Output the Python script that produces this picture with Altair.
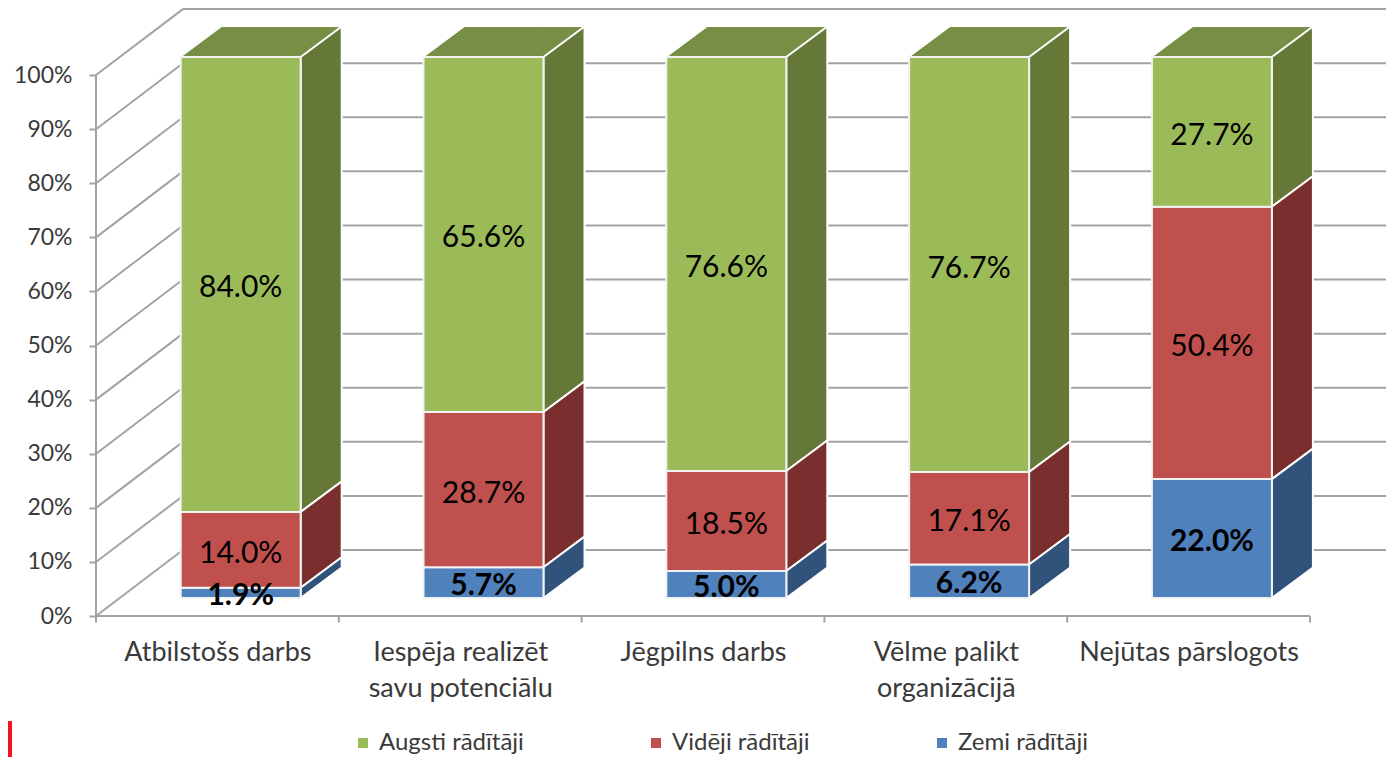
import json
import altair as alt
import pandas as pd

categories = ["Atbilstošs darbs", "Iespēja realizēt\nsavu potenciālu", "Jēgpilns darbs", "Vēlme palikt\norganizācijā", "Nejūtas pārslogots"]
series = ["Augsti rādītāji", "Vidēji rādītāji", "Zemi rādītāji"]
high = [84.0, 65.6, 76.6, 76.7, 27.7]
mid = [14.0, 28.7, 18.5, 17.1, 50.4]
low = [1.9, 5.7, 5.0, 6.2, 22.0]
y_ticks = [0, 10, 20, 30, 40, 50, 60, 70, 80, 90, 100]
x_ticks = [0, 1, 2, 3, 4, 5]

FONT = "Lato"
FRONT = ["#9BBB59", "#C0504D", "#4F81BD"]
SIDE = ["#657838", "#7A2F2E", "#31527A"]
TOP = "#778E45"
GRID = "#A3A3A3"
TEXT = "#3A3A3A"

# projection constants, in scale units (category widths and percent)
X_DOM = [-0.3624, 5.3130]
Y_DOM = [-26.06, 112.4]
WALL_DX, WALL_DY = 0.358, 12.2
BAR_SHIFT_X, BAR_SHIFT_Y = 0.096, 3.33
BAR_W = 0.494
SIDE_DX, SIDE_DY = 0.169, 5.64

front, side, top, labels = [], [], [], []
for i in range(len(categories)):
    vals = [low[i], mid[i], high[i]]
    names = [series[2], series[1], series[0]]
    total = sum(vals)
    u0 = i + 0.5 + BAR_SHIFT_X - BAR_W / 2
    u1 = u0 + BAR_W
    base = 0.0
    for v, n in zip(vals, names):
        a = BAR_SHIFT_Y + base / total * 100
        base += v
        b = BAR_SHIFT_Y + base / total * 100
        front.append(dict(u0=u0, u1=u1, v0=a, v1=b, s=n))
        fid = f"{i}-{n}"
        side.append(dict(f=fid, s=n, u=u1, v0=a, v1=b))
        side.append(dict(f=fid, s=n, u=u1 + SIDE_DX, v0=a + SIDE_DY, v1=b + SIDE_DY))
        labels.append(dict(u=(u0 + u1) / 2, v=(a + b) / 2, t=f"{v:.1f}%", s=n))
    vt = BAR_SHIFT_Y + 100
    top += [
        dict(f=i, u=u0, v0=vt, v1=vt),
        dict(f=i, u=u0 + SIDE_DX, v0=vt, v1=vt + SIDE_DY),
        dict(f=i, u=u1, v0=vt, v1=vt + SIDE_DY),
        dict(f=i, u=u1 + SIDE_DX, v0=vt + SIDE_DY, v1=vt + SIDE_DY),
    ]

grid = []
for t in y_ticks:
    grid.append(dict(u0=0, u1=WALL_DX, v0=t, v1=t + WALL_DY))
    grid.append(dict(u0=WALL_DX, u1=X_DOM[1], v0=t + WALL_DY, v1=t + WALL_DY))

xs = alt.Scale(domain=X_DOM, nice=False, zero=False)
ys = alt.Scale(domain=Y_DOM, nice=False, zero=False)

lines_json = json.dumps(categories, ensure_ascii=False)
x_axis = alt.Axis(
    values=[c + 0.5 for c in range(5)], offset=-141, domain=False, ticks=False, grid=False, title=None,
    labelExpr=f"split({lines_json}[floor(datum.value)], '\\n')",
    labelFont=FONT, labelFontSize=27, labelColor=TEXT, labelLineHeight=36, labelPadding=23,
    labelOverlap=False, labelBound=False, labelFlush=False, labelLimit=400,
)
y_axis = alt.Axis(
    values=y_ticks, offset=-88, domain=False, grid=False, title=None, tickColor=GRID, tickWidth=2, tickSize=7,
    labelExpr="datum.value + '%'", labelFont=FONT, labelFontSize=23, labelColor=TEXT, labelPadding=17,
    labelOverlap=False, labelBound=False,
)

def X(f):
    return alt.X(f, type="quantitative", scale=xs, axis=x_axis)

def Y(f):
    return alt.Y(f, type="quantitative", scale=ys, axis=y_axis)

grid_l = alt.Chart(pd.DataFrame(grid)).mark_rule(color=GRID, strokeWidth=2).encode(
    x=X("u0"), x2="u1", y=Y("v0"), y2="v1")

axis_v = alt.Chart(pd.DataFrame([dict(u=0, v0=0, v1=100)])).mark_rule(color=GRID, strokeWidth=2).encode(
    x=X("u"), y=Y("v0"), y2="v1")
axis_h = alt.Chart(pd.DataFrame([dict(u0=0, u1=5, v=0)])).mark_rule(color=GRID, strokeWidth=2).encode(
    x=X("u0"), x2="u1", y=Y("v"))
x_tick_l = alt.Chart(pd.DataFrame(dict(u=x_ticks, v0=[0] * 6, v1=[-1.2] * 6))).mark_rule(color=GRID, strokeWidth=2).encode(
    x=X("u"), y=Y("v0"), y2="v1")

top_l = alt.Chart(pd.DataFrame(top)).mark_area(color=TOP, stroke="#FFFFFF", strokeWidth=1).encode(
    x=X("u"), y=Y("v0"), y2="v1", detail="f:N")
side_df = pd.DataFrame(side)
side_ls = [
    alt.Chart(side_df[side_df.s == n]).mark_area(color=c, stroke="#FFFFFF", strokeWidth=2).encode(
        x=X("u"), y=Y("v0"), y2="v1", detail="f:N")
    for n, c in zip(series, SIDE)
]
front_l = alt.Chart(pd.DataFrame(front)).mark_rect(stroke="#F2F2F2", strokeWidth=2).encode(
    x=X("u0"), x2="u1", y=Y("v0"), y2="v1",
    color=alt.Color("s:N", scale=alt.Scale(domain=series, range=FRONT), legend=alt.Legend(
        title=None, orient="none", legendX=343, legendY=723, direction="horizontal", columns=3,
        columnPadding=120, symbolType="square", symbolSize=100, symbolStrokeWidth=0, labelOffset=4,
        labelFont=FONT, labelFontSize=24, labelColor=TEXT)))
labels_df = pd.DataFrame(labels)
text_n = alt.Chart(labels_df[labels_df.s != series[2]]).mark_text(font=FONT, fontSize=30, color="#000000", baseline="middle", dy=4).encode(
    x=X("u"), y=Y("v"), text="t:N")
text_b = alt.Chart(labels_df[labels_df.s == series[2]]).mark_text(font=FONT, fontSize=30, fontWeight="bold", color="#000000", baseline="middle", dy=3).encode(
    x=X("u"), y=Y("v"), text="t:N")
red_l = alt.Chart(pd.DataFrame(dict(k=[0]))).mark_rect(color="#F5131F").encode(
    x=alt.value(0), x2=alt.value(4), y=alt.value(713), y2=alt.value(749))

chart = alt.layer(grid_l, axis_v, axis_h, x_tick_l, top_l, *side_ls, front_l, text_n, text_b, red_l).resolve_scale(
    x="shared", y="shared"
).properties(
    width=1378, height=749, padding=0, autosize=alt.AutoSizeParams(type="none")
).configure_view(strokeWidth=0)

chart.save("out.html", embed_options={"renderer": "svg", "actions": False})
